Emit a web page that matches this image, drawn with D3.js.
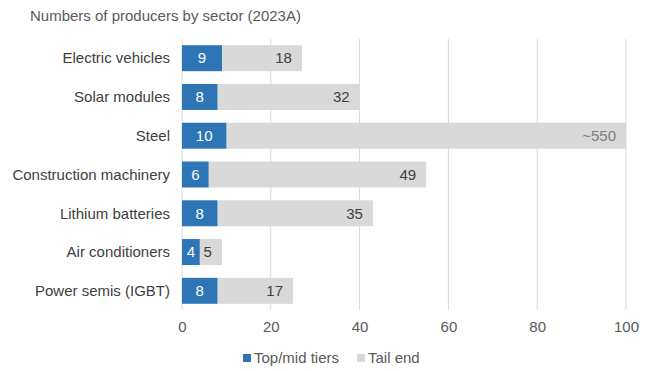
<!DOCTYPE html>
<html>
<head>
<meta charset="utf-8">
<script src="https://cdn.jsdelivr.net/npm/d3@7"></script>
<style>
  body { margin: 0; background: #fff; }
  svg { font-family: "Liberation Sans", Arial, sans-serif; }
</style>
</head>
<body>
<svg id="chart" width="647" height="371"></svg>
<script>
// data
const sectors = ["Electric vehicles", "Solar modules", "Steel", "Construction machinery", "Lithium batteries", "Air conditioners", "Power semis (IGBT)"];
const topTiers = [9, 8, 10, 6, 8, 4, 8];
const tailEnd = [18, 32, 550, 49, 35, 5, 17];
const tailLabels = ["18", "32", "~550", "49", "35", "5", "17"];
const xTicks = [0, 20, 40, 60, 80, 100];

const svg = d3.select("#chart");
const margin = { left: 182, right: 21, top: 39, bottom: 61 };
const width = 647, height = 371;
const fs = 15;

const x = d3.scaleLinear().domain([0, 100]).range([margin.left, width - margin.right]);
const y = d3.scaleBand().domain(sectors).range([margin.top, height - margin.bottom]).paddingInner(0.33).paddingOuter(0.16);

// title
svg.append("text")
    .attr("x", 30).attr("y", 21)
    .attr("font-size", fs).attr("fill", "#595959")
    .text("Numbers of producers by sector (2023A)");

// gridlines
svg.append("g").selectAll("line")
    .data(xTicks)
    .enter().append("line")
    .attr("x1", d => x(d)).attr("x2", d => x(d))
    .attr("y1", margin.top).attr("y2", height - margin.bottom)
    .attr("stroke", "#d9d9d9").attr("stroke-width", 1);

// x axis
const xAxis = svg.append("g")
    .attr("transform", `translate(0,${height - margin.bottom})`)
    .call(d3.axisBottom(x).tickValues(xTicks).tickSize(0).tickPadding(11));
xAxis.select(".domain").remove();
xAxis.selectAll("text").attr("font-size", fs).attr("fill", "#595959").attr("font-family", "Liberation Sans, Arial, sans-serif");

// category labels
svg.append("g").selectAll("text")
    .data(sectors)
    .enter().append("text")
    .attr("x", margin.left - 12)
    .attr("y", d => y(d) + y.bandwidth() / 2)
    .attr("dy", "0.35em")
    .attr("text-anchor", "end")
    .attr("font-size", fs).attr("fill", "#404040")
    .text(d => d);

// rows
const rows = sectors.map((s, i) => ({
    name: s,
    top: topTiers[i],
    tailShown: Math.min(topTiers[i] + tailEnd[i], 100) - topTiers[i],
    label: tailLabels[i],
    capped: topTiers[i] + tailEnd[i] > 100
}));

const g = svg.append("g");

g.selectAll(".tail")
    .data(rows)
    .enter().append("rect")
    .attr("x", d => x(d.top))
    .attr("y", d => y(d.name))
    .attr("width", d => x(d.top + d.tailShown) - x(d.top))
    .attr("height", y.bandwidth())
    .attr("fill", "#d9d9d9");

g.selectAll(".top")
    .data(rows)
    .enter().append("rect")
    .attr("x", x(0))
    .attr("y", d => y(d.name))
    .attr("width", d => x(d.top) - x(0))
    .attr("height", y.bandwidth())
    .attr("fill", "#2e75b6");

g.selectAll(".toplbl")
    .data(rows)
    .enter().append("text")
    .attr("x", d => (x(0) + x(d.top)) / 2)
    .attr("y", d => y(d.name) + y.bandwidth() / 2)
    .attr("dy", "0.35em")
    .attr("text-anchor", "middle")
    .attr("font-size", fs).attr("fill", "#fff")
    .text(d => d.top);

g.selectAll(".taillbl")
    .data(rows)
    .enter().append("text")
    .attr("x", d => x(d.top + d.tailShown) - 10)
    .attr("y", d => y(d.name) + y.bandwidth() / 2)
    .attr("dy", "0.35em")
    .attr("text-anchor", "end")
    .attr("font-size", fs)
    .attr("fill", d => d.capped ? "#7f7f7f" : "#404040")
    .text(d => d.label);

// legend
const legend = [
    { name: "Top/mid tiers", color: "#2e75b6", x: 243 },
    { name: "Tail end", color: "#d9d9d9", x: 357 }
];
const lg = svg.append("g").selectAll("g")
    .data(legend)
    .enter().append("g")
    .attr("transform", d => `translate(${d.x},358)`);
lg.append("rect").attr("x", 0).attr("y", -4).attr("width", 8).attr("height", 8).attr("fill", d => d.color);
lg.append("text")
    .attr("x", 11).attr("y", 0).attr("dy", "0.35em")
    .attr("font-size", fs).attr("fill", "#595959")
    .text(d => d.name);
</script>
</body>
</html>
